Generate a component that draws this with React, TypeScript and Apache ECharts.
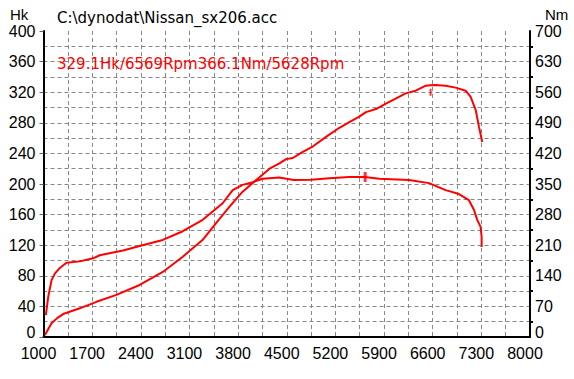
import React, { useEffect, useRef } from "react";
import * as echarts from "echarts";

const titleText = "C:\\dynodat\\Nissan_sx206.acc";
const peakText = "329.1Hk/6569Rpm366.1Nm/5628Rpm";

const powerRpm = [1020, 1116, 1200, 1283, 1522, 1762, 2049, 2383, 2717, 3004, 3291, 3483, 3674, 3865, 4057, 4252, 4395, 4491, 4587, 4730, 4874, 5065, 5257, 5400, 5544, 5640, 5783, 5927, 6115, 6211, 6355, 6500, 6569, 6643, 6787, 6930, 7074, 7146, 7218, 7265, 7313];
const powerHk = [2.6, 18, 25, 30, 37.5, 46, 55, 68, 85, 105, 127, 149, 170, 190, 205, 220, 227, 232.5, 234, 242, 249, 261.6, 273.5, 281, 288, 294, 298, 305, 314, 318.5, 322, 328.5, 329.1, 329.5, 328.5, 326, 322, 314, 297, 275, 255];

const torqueRpm = [1034, 1068, 1116, 1163, 1235, 1331, 1522, 1713, 1809, 2144, 2383, 2717, 3004, 3291, 3578, 3722, 3865, 4009, 4152, 4392, 4600, 4850, 5111, 5400, 5628, 5828, 6260, 6547, 6787, 6978, 7121, 7193, 7241, 7289, 7304, 7304];
const torqueNm = [50, 92, 130, 145, 158, 170, 173, 180, 187, 198, 208, 222, 242, 268, 306, 336, 348, 354, 362, 365, 359, 360, 363, 366, 366.1, 362, 359, 352, 336, 327, 313, 291, 268, 252, 229, 206];

const peakPower = [6569, 329.1];
const peakTorque = [5628, 366.1];

const FONT = "Liberation Sans";
const WIDE = "DejaVu Sans";

export default function App() {
  const ref = useRef<HTMLDivElement>(null);
  useEffect(() => {
    if (!ref.current) return;
    const chart = echarts.init(ref.current, null, { renderer: "svg" });
    const gridStyle = { color: "#888", type: [4, 3] as any, width: 1 };
    const axisLabel = { color: "#000", fontFamily: FONT, fontSize: 16, margin: 8 };
    const raisedZero = { z: { color: "#000", fontFamily: FONT, fontSize: 16, padding: [0, 0, 9, 0] } };
    chart.setOption({
      animation: false,
      backgroundColor: "#fff",
      title: [
        { text: titleText, left: 52, top: 5, textStyle: { color: "#000", fontFamily: WIDE, fontSize: 15, fontWeight: "normal" } },
        { text: peakText, left: 52, top: 51, textStyle: { color: "#ff0000", fontFamily: WIDE, fontSize: 15, fontWeight: "normal" } },
        { text: "Hk", left: 5, top: 2, textStyle: { color: "#000", fontFamily: FONT, fontSize: 15, fontWeight: "normal" } },
        { text: "Nm", left: 540, top: 2, textStyle: { color: "#000", fontFamily: FONT, fontSize: 15, fontWeight: "normal" } },
      ],
      grid: { left: 43.5, right: 44, top: 31, bottom: 42, containLabel: false },
      xAxis: {
        type: "value",
        min: 1000,
        max: 8000,
        interval: 700,
        axisLine: { show: true, onZero: false, lineStyle: { color: "#000", width: 2 } },
        axisTick: { show: false },
        axisLabel: { ...axisLabel, margin: 8, padding: [0, 10, 0, 0], formatter: (v: number) => String(v) },
        splitLine: { show: true, showMinLine: false, showMaxLine: false, lineStyle: gridStyle },
        minorTick: { show: false, splitNumber: 2 },
        minorSplitLine: { show: true, lineStyle: gridStyle },
      },
      yAxis: [
        {
          type: "value",
          min: 0,
          max: 400,
          interval: 40,
          axisLine: { show: true, lineStyle: { color: "#000", width: 2 } },
          axisTick: { show: true, length: 4, lineStyle: { color: "#666" } },
          axisLabel: {
            ...axisLabel,
            formatter: (v: number) => (v === 0 ? "{z|0}" : String(v)),
            rich: raisedZero,
          },
          splitLine: { show: true, showMinLine: false, showMaxLine: false, lineStyle: gridStyle },
          minorTick: { show: false, splitNumber: 2 },
          minorSplitLine: { show: true, lineStyle: gridStyle },
        },
        {
          type: "value",
          min: 0,
          max: 700,
          interval: 70,
          position: "right",
          axisLine: { show: true, lineStyle: { color: "#000", width: 2 } },
          axisTick: { show: false },
          minorTick: { show: true, splitNumber: 2, length: 3, lineStyle: { color: "#000", width: 2 } },
          axisLabel: {
            ...axisLabel,
            margin: 5,
            formatter: (v: number) => (v === 0 ? "{z|0}" : String(v)),
            rich: raisedZero,
          },
          splitLine: { show: false },
        },
      ],
      series: [
        {
          name: "Hk",
          type: "line",
          yAxisIndex: 0,
          showSymbol: false,
          data: powerRpm.map((r, i) => [r, powerHk[i]]),
          lineStyle: { color: "#ff0000", width: 2 },
          itemStyle: { color: "#ff0000" },
        },
        {
          name: "Nm",
          type: "line",
          yAxisIndex: 1,
          showSymbol: false,
          data: torqueRpm.map((r, i) => [r, torqueNm[i]]),
          lineStyle: { color: "#ff0000", width: 2 },
          itemStyle: { color: "#ff0000" },
        },
        {
          type: "scatter",
          yAxisIndex: 0,
          data: [peakPower],
          symbol: "rect",
          symbolSize: [2, 7],
          symbolOffset: [0, 7],
          itemStyle: { color: "#ff0000" },
        },
        {
          type: "scatter",
          yAxisIndex: 1,
          data: [peakTorque],
          symbol: "rect",
          symbolSize: [3, 10],
          itemStyle: { color: "#ff0000" },
        },
      ],
    });
    return () => chart.dispose();
  }, []);
  return <div ref={ref} style={{ position: "fixed", left: 0, top: 0, width: 574, height: 379 }} />;
}
